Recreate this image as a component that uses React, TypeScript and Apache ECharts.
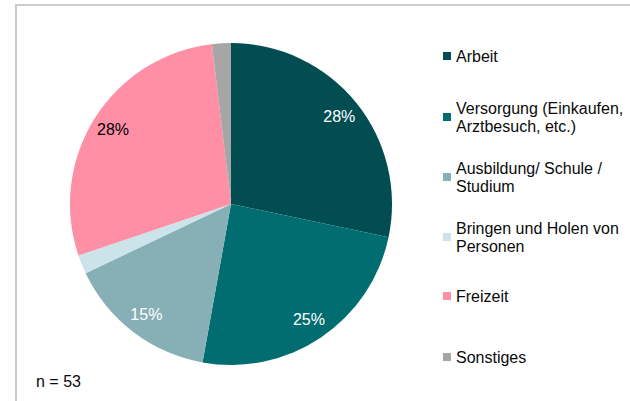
import React, { useEffect, useRef } from "react";
import * as echarts from "echarts";

const categories = [
  "Arbeit",
  "Versorgung (Einkaufen, Arztbesuch, etc.)",
  "Ausbildung/ Schule / Studium",
  "Bringen und Holen von Personen",
  "Freizeit",
  "Sonstiges",
];
const legendLines = [
  "Arbeit",
  "Versorgung (Einkaufen,\nArztbesuch, etc.)",
  "Ausbildung/ Schule /\nStudium",
  "Bringen und Holen von\nPersonen",
  "Freizeit",
  "Sonstiges",
];
const counts = [15, 13, 8, 1, 15, 1];
const colors = ["#024d52", "#016d70", "#86b0b5", "#cce3ea", "#fe8fa5", "#a6a6a6"];
const labelColors = ["#ffffff", "#ffffff", "#ffffff", "#000000", "#000000", "#000000"];
const showLabel = [true, true, true, false, true, false];
const legendY = [56, 117, 177, 237, 296, 357];
const nText = "n = 53";

const FONT = "'Liberation Sans', Arial, Helvetica, sans-serif";
const LH = 18;

export default function App() {
  const ref = useRef<HTMLDivElement>(null);
  useEffect(() => {
    if (!ref.current) return;
    const chart = echarts.init(ref.current, undefined, { renderer: "svg" });
    const data = categories.map((c, i) => ({
      name: c,
      value: counts[i],
      itemStyle: { color: colors[i] },
    }));
    const labelData = categories.map((c, i) => ({
      name: c,
      value: counts[i],
      itemStyle: { color: "rgba(0,0,0,0)" },
      label: { show: showLabel[i], color: labelColors[i] },
    }));
    const legends = categories.map((c, i) => {
      const twoLine = legendLines[i].indexOf("\n") >= 0;
      return {
        show: true,
        orient: "vertical",
        left: 443,
        top: twoLine ? legendY[i] - 1.5 * LH : legendY[i] - LH / 2,
        padding: 0,
        icon: "rect",
        itemWidth: 8,
        itemHeight: 8,
        selectedMode: false,
        data: [c],
        formatter: () => legendLines[i],
        textStyle: {
          fontFamily: FONT,
          fontSize: 16,
          color: "#0a0a0a",
          lineHeight: LH,
          padding: twoLine ? [LH, 0, 0, 0] : 0,
        },
      };
    });
    chart.setOption({
      animation: false,
      backgroundColor: "#ffffff",
      legend: legends,
      graphic: [
        {
          type: "rect",
          shape: { x: 16, y: 5, width: 800, height: 600 },
          style: { fill: "none", stroke: "#cccccc", lineWidth: 2 },
          silent: true,
        },
        {
          type: "text",
          left: 36,
          top: 373,
          style: { text: nText, font: `16px ${FONT}`, fill: "#0a0a0a" },
        },
      ],
      series: [
        {
          type: "pie",
          center: [231, 204],
          radius: [0, 161],
          startAngle: 90,
          clockwise: true,
          label: { show: false },
          labelLine: { show: false },
          emphasis: { disabled: true },
          silent: true,
          data,
        },
        {
          type: "pie",
          center: [231, 204],
          radius: [112, 161],
          startAngle: 90,
          clockwise: true,
          silent: true,
          emphasis: { disabled: true },
          labelLine: { show: false },
          label: {
            position: "inside",
            fontFamily: FONT,
            fontSize: 16,
            formatter: (p: any) => Math.round(p.percent) + "%",
          },
          data: labelData,
        },
      ],
    });
    return () => chart.dispose();
  }, []);
  return (
    <div
      ref={ref}
      style={{ position: "fixed", left: 0, top: 0, width: 630, height: 401 }}
    />
  );
}
